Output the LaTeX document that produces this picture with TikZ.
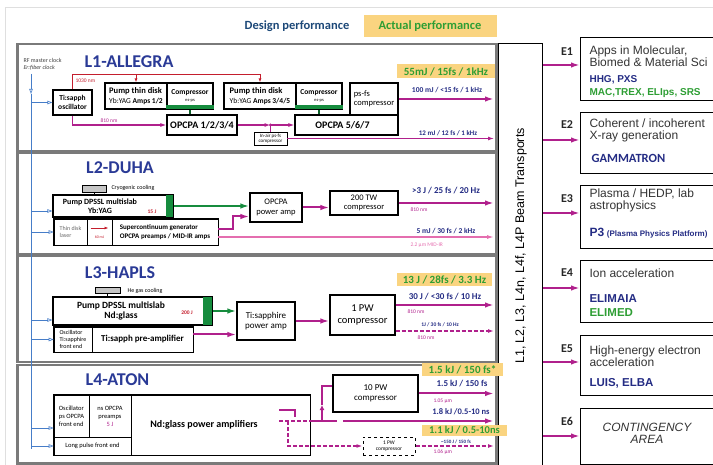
\documentclass[tikz,border=0pt]{standalone}
\usepackage{fontspec}
\setmainfont{Carlito}
\newfontfamily\arialfont{Liberation Sans}
\usetikzlibrary{arrows.meta, positioning, calc}

\definecolor{magc}{RGB}{176,32,140}
\definecolor{pinkc}{RGB}{228,110,175}
\definecolor{navyc}{RGB}{36,44,132}
\definecolor{grntxt}{RGB}{46,158,52}
\definecolor{barc}{RGB}{22,140,62}
\definecolor{orngc}{RGB}{250,212,128}
\definecolor{framec}{RGB}{122,122,122}
\definecolor{redc}{RGB}{196,30,45}
\definecolor{clkc}{RGB}{70,125,200}
\definecolor{dsgnc}{RGB}{28,72,120}
\definecolor{titlec}{RGB}{42,58,150}

\newcommand{\fsz}[2]{\fontsize{#1}{#2}\selectfont}

\begin{document}
\begin{tikzpicture}[
  x=1pt, y=-1pt,
  >={Latex[length=9pt,width=5.5pt]},
  blk/.style={draw, line width=1.2pt, inner sep=1pt, align=center},
  cell/.style={draw, line width=0.6pt, inner sep=1pt, align=left},
  lframe/.style={draw=framec, line width=2.5pt, anchor=north west, inner sep=0pt},
  ebox/.style={draw, line width=1.2pt, anchor=north west, minimum width=140, inner sep=0pt},
  coolbox/.style={draw, fill=gray!45, line width=0.8pt, inner sep=0pt},
  ltitle/.style={font=\bfseries\fsz{18}{20}, text=titlec},
  tag/.style={fill=orngc, text=grntxt, font=\bfseries\fsz{11}{12}, inner sep=1pt},
  outlbl/.style={text=navyc},
  wave/.style={text=magc, font=\fsz{5.5}{6}, anchor=west},
  mag/.style={draw=magc, line width=2pt, ->},
  magthin/.style={draw=magc, line width=1.1pt, -{Latex[length=6pt,width=4pt]}},
  magdash/.style={draw=magc, line width=1.2pt, dash pattern=on 4pt off 2pt, -{Latex[length=6pt,width=4pt]}},
  pinkl/.style={draw=pinkc, line width=1.3pt, -{Latex[length=7pt,width=4pt]}},
  grn/.style={draw=barc, line width=2pt, ->},
  grnline/.style={draw=barc!70!black, line width=1.2pt},
  redl/.style={draw=redc, line width=0.9pt, -{Latex[length=4pt,width=3pt]}},
  clk/.style={draw=clkc, line width=0.6pt},
  clkarrow/.style={clk, -{Triangle[open, length=5pt, width=3.5pt]}},
  etext/.style={anchor=west, align=left, font=\arialfont\fsz{12}{12.5}, text=black!80},
  eblue/.style={anchor=west, font=\arialfont\bfseries\fsz{10}{11}, text=navyc},
  egreen/.style={anchor=west, font=\arialfont\bfseries\fsz{10}{11}, text=grntxt},
  elab/.style={font=\bfseries\fsz{12}{13}, text=black!85}
]
\useasboundingbox (0,0) rectangle (713,465);
\clip (0,0) rectangle (713,465);

% Cadre et en-tete
\draw[gray!25, line width=0.8pt] (5,470) -- (5,7) -- (720,7);
\node[font=\bfseries\fsz{12.5}{14}, text=dsgnc] (design) at (297,26) {Design performance};
\node[fill=orngc, text=grntxt, font=\bfseries\fsz{12.5}{14}, minimum width=133, minimum height=22, inner sep=0pt] (actual) at (430,26) {Actual performance};

% Cadres L1 a L4
\node[lframe, minimum width=479, minimum height=107] (L1) at (16,43) {};
\node[lframe, minimum width=479, minimum height=101] (L2) at (16,152) {};
\node[lframe, minimum width=479, minimum height=106] (L3) at (16,255) {};
\node[lframe, minimum width=479, minimum height=98] (L4) at (16,364) {};

% Transports
\node[draw, line width=1.2pt, anchor=north west, minimum width=44, minimum height=430, inner sep=0pt] (trans) at (498,43) {};
\node[rotate=90, font=\arialfont\fsz{12.5}{14}] (transtxt) at (521,246) {L1, L2, L3, L4n, L4f, L4P Beam Transports};
\coordinate (xend) at (494,0);

% Horloge
\node[font=\fsz{6}{7}, text=black!75, anchor=west] (rf) at (20,60) {RF master clock};
\node[font=\itshape\fsz{6}{7}, text=black!75, anchor=west] (er) at (20,68) {Er:fiber clock};
\coordinate (clktop) at (31,74);
\coordinate (clkmid) at (31,94);
\coordinate (clkbot) at (31,449);
\draw[clkarrow] (clktop) -- (clkmid);
\draw[clk] (clkmid) -- (clkbot);

% L1-ALLEGRA
\node[ltitle] (t1) at (129,62) {L1-ALLEGRA};
\node[blk, minimum width=39, minimum height=25, font=\bfseries\fsz{7.5}{8.5}] (osc) at (72.5,102.5) {Ti:sapph\\oscillator};
\node[blk, minimum width=62, minimum height=26, font=\fsz{7.5}{9.5}, align=left] (pump1) at (136,96) {{\bfseries\fsz{8.5}{9.5}Pump thin disk}\\Yb:YAG \textbf{Amps 1/2}};
\node[blk, minimum width=46, minimum height=26, font=\fsz{7.5}{8}] (comp1) at (190,96) {\textbf{Compressor}\\[-1pt]{\fsz{4.5}{5}ns-ps}};
\fill[barc] ([yshift=0.6]comp1.south west) rectangle ([yshift=5]comp1.south east);
\node[blk, minimum width=70, minimum height=20, font=\bfseries\fsz{10}{11}] (opa1) at (202,125) {OPCPA 1/2/3/4};
\node[blk, minimum width=72, minimum height=26, font=\fsz{7.5}{9.5}, align=left] (pump2) at (260,96) {{\bfseries\fsz{8.5}{9.5}Pump thin disk}\\Yb:YAG \textbf{Amps 3/4/5}};
\node[blk, minimum width=46, minimum height=26, font=\fsz{7.5}{8}] (comp2) at (319,96) {\textbf{Compressor}\\[-1pt]{\fsz{4.5}{5}ns-ps}};
\fill[barc] ([yshift=0.6]comp2.south west) rectangle ([yshift=5]comp2.south east);
\node[blk, minimum width=103, minimum height=20, font=\bfseries\fsz{10}{11}] (opa5) at (346.5,125) {OPCPA 5/6/7\hspace{8pt}};
\node[blk, minimum width=48, minimum height=32, font=\fsz{8.5}{9.5}, align=left] (psfs) at (374,99) {ps-fs\\compressor};
\node[blk, line width=0.6pt, minimum width=33, minimum height=13, font=\fsz{5}{5.5}] (inair) at (270.5,138.5) {In-air ps-fs\\compressor};

\draw[redl] (osc.north) |- ($(pump2.north)+(0,-8)$) -- (pump2.north);
\draw[redl] ($(pump1.north)+(0,-8)$) -- (pump1.north);
\node[font=\fsz{5.5}{6}, text=redc, anchor=west] (l1030) at (72,81) {1030 nm};
\draw[magthin] (osc.south) |- (opa1.west);
\node[wave] (w1a) at (97,121) {810 nm};
\draw[grnline] (comp1.south) -- (comp1.south |- opa1.north);
\draw[grnline] (comp2.south) -- (comp2.south |- opa5.north);
\coordinate (split1) at (inair.north |- opa1.east);
\draw[magthin] (opa1.east) -- (split1);
\draw[magthin] (split1) -- (opa5.west);
\fill[magc] (split1) circle (1.6);
\draw[magc, line width=1.1pt] (split1) -- (inair.north);
\draw[magthin] (inair.east) -- (inair.east -| xend);
\draw[mag] (psfs.east) -- (psfs.east -| xend);
\node[tag, minimum width=98, minimum height=14] (g1) at (446,71.5) {55mJ / 15fs / 1kHz};
\node[outlbl, font=\bfseries\fsz{7.5}{8}] (o1a) at (447,90) {100 mJ / <15 fs / 1 kHz};
\node[outlbl, font=\bfseries\fsz{7}{8}] (o1b) at (448,133) {12 mJ / 12 fs / 1 kHz};

% L2-DUHA
\node[ltitle] (t2) at (120,168) {L2-DUHA};
\node[coolbox, minimum width=24, minimum height=7] (cryo) at (94,188.5) {};
\node[font=\fsz{6}{7}, anchor=west] (cryol) at (108,188) {Cryogenic cooling};
\node[blk, minimum width=120, minimum height=22] (pumpb) at (113,206) {};
\node[font=\bfseries\fsz{8}{8.5}, align=center] (pumpbt) at (100,206) {Pump DPSSL multislab\\Yb:YAG};
\fill[barc] ([xshift=-7.5,yshift=-0.6]pumpb.north east) rectangle ([xshift=-0.6,yshift=0.6]pumpb.south east);
\node[font=\bfseries\fsz{5.5}{6}, text=redc] (e15) at (152,212) {15 J};
\draw[line width=0.8pt] (cryo.south) -- (cryo.south |- pumpb.north);
\node[blk, minimum width=52, minimum height=29, font=\fsz{8.5}{9.5}] (opa2) at (276,207.5) {OPCPA\\power amp};
\node[blk, minimum width=68, minimum height=24, font=\fsz{8.5}{9.5}] (tw) at (364,203) {200 TW\\compressor};
\node[cell, minimum width=33, minimum height=26, font=\fsz{6}{7}, text=black!60] (tdl) at (70.5,232) {Thin disk\\laser};
\node[cell, minimum width=25, minimum height=26] (tdm) at (99.5,232) {};
\node[cell, minimum width=106, minimum height=26, font=\bfseries\fsz{7}{8.5}] (sc) at (165,232) {Supercontinuum generator\\OPCPA preamps / MID-IR amps};
\draw[line width=1.2pt] (tdl.north west) rectangle (sc.south east);
\draw[redl] ([xshift=-9,yshift=4]tdm.center) -- ([xshift=9,yshift=4]tdm.center);
\node[text=redc, font=\fsz{4}{4.5}] (e60) at ([yshift=-5]tdm.center) {60 mJ};

\draw[grn] (pumpb.east) -- (pumpb.east -| opa2.west);
\coordinate (sc1) at ([yshift=3]sc.east);
\coordinate (sc2) at ([yshift=-5]sc.east);
\draw[mag] (sc1) -- ++(15,0) |- ([yshift=-9]opa2.west);
\draw[mag] (opa2.east) -- (opa2.east -| tw.west);
\draw[mag] (tw.east) -- (tw.east -| xend);
\draw[pinkl] (sc2) -- (sc2 -| xend);
\node[outlbl, font=\bfseries\fsz{9}{10}] (o2a) at (446,191) {>3 J / 25 fs / 20 Hz};
\node[wave] (w2a) at (407,210) {810 nm};
\node[outlbl, font=\bfseries\fsz{7.5}{8}] (o2b) at (446,231) {5 mJ / 30 fs / 2 kHz};
\node[wave, text=pinkc] (w2b) at (407,245) {2.2 μm MID-IR};

% L3-HAPLS
\node[ltitle] (t3) at (120,273) {L3-HAPLS};
\node[coolbox, minimum width=25, minimum height=6] (he) at (107.5,290.5) {};
\node[font=\fsz{6}{7}, anchor=west] (hel) at (124,291) {He gas cooling};
\node[blk, minimum width=159, minimum height=28] (pump3) at (132.5,311) {};
\node[font=\bfseries\fsz{9.5}{10}, align=center] (pump3t) at (121,311) {Pump DPSSL multislab\\Nd:glass};
\fill[barc] ([xshift=-9.5,yshift=-0.6]pump3.north east) rectangle ([xshift=-0.6,yshift=0.6]pump3.south east);
\node[font=\bfseries\fsz{5.5}{6}, text=redc] (e200) at (187,313) {200 J};
\draw[line width=0.8pt] (he.south) -- (he.south |- pump3.north);
\node[blk, minimum width=58, minimum height=38, font=\fsz{9}{10}] (tsa) at (266,321) {Ti:sapphire\\power amp};
\node[cell, minimum width=38, minimum height=25, font=\fsz{6}{7}] (osc3a) at (73,339.5) {Oscillator\\Ti:sapphire\\front end};
\node[cell, minimum width=101, minimum height=25, font=\bfseries\fsz{9}{10}] (osc3b) at (142.5,339.5) {Ti:sapph pre-amplifier};
\draw[line width=1.2pt] (osc3a.north west) rectangle (osc3b.south east);
\node[blk, minimum width=65, minimum height=40, font=\fsz{10.5}{12}] (pw1) at (362.5,315) {1 PW\\compressor};

\draw[grn] (pump3.east) -- (pump3.east -| tsa.west);
\coordinate (o3) at ([yshift=5]osc3b.east);
\draw[mag] (o3) -- (o3 -| tsa.west);
\draw[mag] (tsa.east) -- (tsa.east -| pw1.west);
\coordinate (p3a) at ([yshift=10]pw1.east);
\coordinate (p3b) at ([yshift=-16]pw1.east);
\draw[mag] (p3a) -- (p3a -| xend);
\draw[magdash] (p3b) -- (p3b -| xend);
\node[tag, minimum width=95, minimum height=13] (g3) at (444.5,279.5) {13 J / 28fs / 3.3 Hz};
\node[outlbl, font=\bfseries\fsz{9}{10}] (o3a) at (445,297) {30 J / <30 fs / 10 Hz};
\node[wave] (w3a) at (404,312) {810 nm};
\node[outlbl, font=\bfseries\fsz{5.5}{6}] (o3b) at (440,325) {1J / 30 fs / 10 Hz};
\node[wave] (w3b) at (414,338) {810 nm};

% L4-ATON
\node[ltitle] (t4) at (117.5,380) {L4-ATON};
\node[cell, minimum width=35, minimum height=42, font=\fsz{6.5}{8}] (c1) at (71.5,416) {Oscillator\\ps OPCPA\\front end};
\node[cell, minimum width=42, minimum height=42, font=\fsz{6.5}{8}, align=center] (c2) at (110,416) {ns OPCPA\\preamps\\\textcolor{magc}{5 J}};
\node[cell, minimum width=77, minimum height=18, font=\fsz{6.5}{8}] (c3) at (92.5,446) {Long pulse front end};
\node[cell, minimum width=179, minimum height=60] (c4) at (220.5,425) {};
\node[font=\bfseries\fsz{10}{11}] (ndt) at (204,425) {Nd:glass power amplifiers};
\draw[line width=1.2pt] (c1.north west) rectangle (c4.south east);
\node[blk, minimum width=85, minimum height=37, font=\fsz{9}{10.5}] (pw10) at (375.5,393.5) {10 PW\\compressor};
\node[blk, dashed, line width=1pt, minimum width=52, minimum height=18, font=\fsz{5.5}{6.5}] (dpw) at (389,446) {1 PW\\compressor};

\coordinate (h1) at (279,410);
\draw[magc, line width=1.5pt] (h1) -- ++(16,0) -- ++(0,7);
\coordinate (d1) at (279,421);
\coordinate (d2) at (288,421);
\coordinate (m0) at (c4.east |- d1);
\draw[magc, line width=1.2pt, dash pattern=on 4pt off 2pt] (d1) -- (m0);
\draw[magdash] (d2) |- (dpw.west);
\coordinate (gapA) at (337,421);
\coordinate (gapB) at (343,421);
\draw[magc, line width=2pt] (m0) -- (gapA);
\coordinate (up1) at (322,421);
\coordinate (up2) at (322,405);
\coordinate (pwin) at ($(pw10.west)+(0,-7.5)$);
\draw[magc, line width=1.8pt, -{Latex[length=5pt,width=5pt]}] (up1) -- (up2);
\draw[magc, line width=1.8pt] (up2) |- (pwin);
\draw[mag] (gapB) -- (gapB -| xend);
\draw[mag] (pw10.east) -- (pw10.east -| xend);
\draw[magdash] (dpw.east) -- (dpw.east -| xend);
\node[tag, minimum width=81, minimum height=13] (g4a) at (462.5,369.5) {1.5 kJ / 150 fs*};
\node[outlbl, font=\bfseries\fsz{9}{10}] (o4a) at (462,384) {1.5 kJ / 150 fs};
\node[wave] (w4a) at (430,401) {1.05 μm};
\node[outlbl, font=\bfseries\fsz{8.5}{9}] (o4b) at (461,412) {1.8 kJ /0.5-10 ns};
\node[tag, font=\bfseries\fsz{10.5}{11}, minimum width=85, minimum height=11] (g4b) at (464.5,430) {1.1 kJ / 0.5-10ns};
\node[outlbl, font=\bfseries\fsz{5}{5.5}] (o4c) at (456,441.5) {\textasciitilde150 J / 150 fs};
\node[wave] (w4c) at (430,452) {1.06 μm};

% Branches horloge
\coordinate (b2) at ([yshift=-5]pumpb.west);
\coordinate (b3) at ([yshift=-9]pump3.west);
\coordinate (b4) at ([yshift=-12]c1.west);
\draw[clkarrow] (clktop |- osc.west) -- (osc.west);
\draw[clkarrow] (b2 -| clktop) -- (b2);
\draw[clkarrow] (clktop |- tdl.west) -- (tdl.west);
\draw[clkarrow] (b3 -| clktop) -- (b3);
\draw[clkarrow] (clktop |- osc3a.west) -- (osc3a.west);
\draw[clkarrow] (b4 -| clktop) -- (b4);
\draw[clkarrow] (clktop |- c3.west) -- (c3.west);

% Stations experimentales
\node[ebox, minimum height=63] (e1) at (580,37) {};
\node[ebox, minimum height=61] (e2) at (580,112) {};
\node[ebox, minimum height=63] (e3) at (580,185) {};
\node[ebox, minimum height=62] (e4) at (580,260) {};
\node[ebox, minimum height=60] (e5) at (580,335) {};
\node[ebox, minimum height=56] (e6) at (580,408) {};

\foreach \e/\y/\ly in {e1/65/52, e2/140/125, e3/213/199, e4/288/273, e5/362/349, e6/436/421} {
  \draw[mag] (trans.east |- 0,\y) -- (\e.west |- 0,\y);
  \node[elab] (\e lab) at (567,\ly) {\MakeUppercase{\e}};
}

\node[etext] (e1t) at (586,56) {Apps in Molecular,\\Biomed \& Material Sci};
\node[eblue] (e1a) at (586,80) {HHG, PXS};
\node[egreen] (e1b) at (586,93) {MAC,TREX, ELIps, SRS};
\node[etext] (e2t) at (586,130.5) {Coherent / incoherent\\X-ray generation};
\node[eblue, font=\bfseries\fsz{12.5}{13}] (e2a) at (588,158) {GAMMATRON};
\node[etext] (e3t) at (586,200.5) {Plasma / HEDP, lab\\astrophysics};
\node[eblue] (e3a) at (586,233) {{\fsz{12}{12}P3} {\fsz{8}{8}(Plasma Physics Platform)}};
\node[etext] (e4t) at (586,273) {Ion acceleration};
\node[eblue, font=\arialfont\bfseries\fsz{11.5}{12}] (e4a) at (586,299) {ELIMAIA};
\node[egreen, font=\arialfont\bfseries\fsz{11.5}{12}] (e4b) at (586,313) {ELIMED};
\node[etext] (e5t) at (586,356) {High-energy electron\\acceleration};
\node[eblue, font=\arialfont\bfseries\fsz{11.5}{12}] (e5a) at (586,383) {LUIS, ELBA};
\node[font=\arialfont\itshape\fsz{12}{12}, align=center, text=black!80] (e6t) at (647,433.5) {CONTINGENCY\\AREA};

\end{tikzpicture}
\end{document}
